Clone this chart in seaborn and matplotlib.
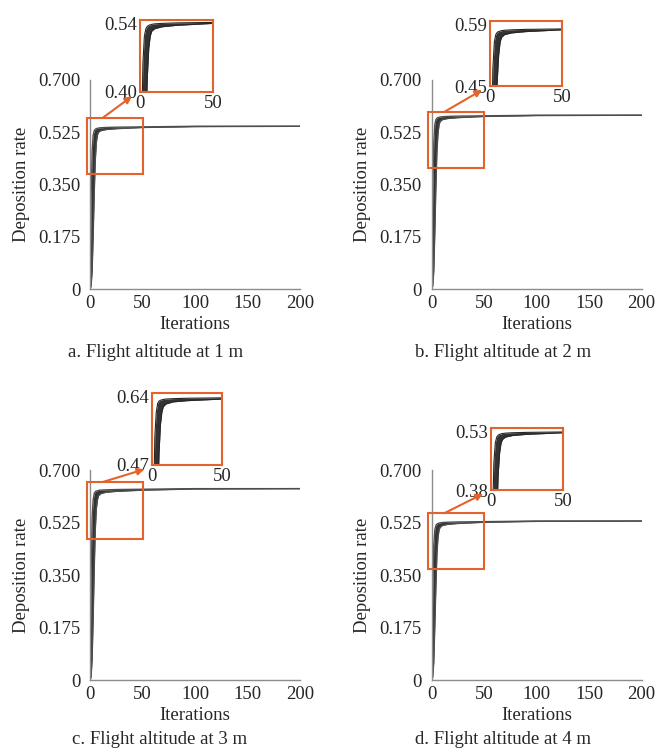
import numpy as np
import pandas as pd
import seaborn as sns
import matplotlib.pyplot as plt
from matplotlib.patches import Rectangle

sns.set_style("white")
plt.rcParams["font.family"] = ["Liberation Serif", "DejaVu Serif"]
plt.rcParams["font.size"] = 13.5

## data (fast / slow envelope of the runs)
iters = [0, 1, 2, 3, 4, 5, 6, 7, 8, 10, 15, 25, 50, 100, 200]

upper_a = [0, 0.30, 0.46, 0.515, 0.530, 0.535, 0.537, 0.538, 0.539, 0.540, 0.541, 0.542, 0.543, 0.545, 0.545]
lower_a = [0, 0.01, 0.06, 0.18, 0.32, 0.43, 0.49, 0.515, 0.525, 0.530, 0.534, 0.537, 0.541, 0.544, 0.545]
upper_b = [0, 0.32, 0.49, 0.55, 0.567, 0.572, 0.574, 0.575, 0.576, 0.577, 0.578, 0.579, 0.580, 0.582, 0.582]
lower_b = [0, 0.01, 0.06, 0.19, 0.34, 0.46, 0.52, 0.55, 0.561, 0.567, 0.571, 0.574, 0.578, 0.581, 0.582]
upper_c = [0, 0.35, 0.54, 0.60, 0.622, 0.628, 0.630, 0.631, 0.632, 0.633, 0.634, 0.635, 0.636, 0.638, 0.638]
lower_c = [0, 0.01, 0.07, 0.21, 0.37, 0.50, 0.57, 0.60, 0.614, 0.621, 0.626, 0.629, 0.633, 0.637, 0.638]
upper_d = [0, 0.29, 0.45, 0.50, 0.515, 0.520, 0.522, 0.523, 0.524, 0.525, 0.526, 0.527, 0.528, 0.530, 0.530]
lower_d = [0, 0.01, 0.06, 0.18, 0.31, 0.42, 0.475, 0.50, 0.509, 0.515, 0.519, 0.522, 0.526, 0.529, 0.530]

captions = ["a. Flight altitude at 1 m", "b. Flight altitude at 2 m",
            "c. Flight altitude at 3 m", "d. Flight altitude at 4 m"]
x_ticks = [0, 50, 100, 150, 200]
y_ticks = [0, 0.175, 0.350, 0.525, 0.700]
y_ticklabels = ["0", "0.175", "0.350", "0.525", "0.700"]

# zoomed window of each panel (inset y range) and highlighted box on main plot
inset_lo = [0.40, 0.45, 0.47, 0.38]
inset_hi = [0.54, 0.59, 0.64, 0.53]
box_lo = [0.385, 0.405, 0.47, 0.37]
box_hi = [0.573, 0.593, 0.66, 0.556]

uppers = [upper_a, upper_b, upper_c, upper_d]
lowers = [lower_a, lower_b, lower_c, lower_d]

ORANGE = "#E4622C"
GREY = "#8c8c8c"

main_pos = [[0.137, 0.6167, 0.3196, 0.2772], [0.657, 0.6167, 0.3196, 0.2772],
            [0.137, 0.0981, 0.3196, 0.2785], [0.657, 0.0981, 0.3196, 0.2785]]
inset_pos = [[0.2131, 0.878, 0.111, 0.0955], [0.7458, 0.8859, 0.1096, 0.0862],
             [0.2314, 0.3833, 0.1065, 0.0955], [0.7473, 0.3501, 0.1096, 0.0822]]
cap_xy = [(156 / 657, 0.533), (503 / 657, 0.533), (160 / 657, 0.0186), (503 / 657, 0.0186)]

fig = plt.figure(figsize=(6.57, 7.54), dpi=100)


def draw_runs(ax, up, lo, lw, col):
    df = pd.DataFrame({"iter": iters * 2, "rate": up + lo,
                       "run": ["fast"] * len(iters) + ["slow"] * len(iters)})
    ax.fill_between(iters, lo, up, color="black", alpha=0.8, lw=0)
    sns.lineplot(data=df, x="iter", y="rate", units="run", estimator=None,
                 color=col, lw=lw, ax=ax, legend=False)


for i in range(4):
    ax = fig.add_axes(main_pos[i])
    draw_runs(ax, uppers[i], lowers[i], 1.0, "0.3")
    ax.set_xlim(0, 200)
    ax.set_ylim(0, 0.7)
    ax.set_xticks(x_ticks)
    ax.set_yticks(y_ticks)
    ax.set_yticklabels(y_ticklabels)
    ax.set_xlabel("Iterations", labelpad=3)
    ax.set_ylabel("Deposition rate", labelpad=6)
    for s in ["top", "right"]:
        ax.spines[s].set_visible(False)
    for s in ["left", "bottom"]:
        ax.spines[s].set_color(GREY)
        ax.spines[s].set_linewidth(1.0)
    ax.tick_params(axis="y", direction="out", length=3, color=GREY, pad=4)
    ax.tick_params(axis="x", direction="in", length=3, color=GREY, pad=4)

    # highlighted box
    ax.add_patch(Rectangle((-3, box_lo[i]), 53, box_hi[i] - box_lo[i], fill=False,
                           ec=ORANGE, lw=1.5, clip_on=False, zorder=5))

    # inset
    ins = fig.add_axes(inset_pos[i])
    draw_runs(ins, uppers[i], lowers[i], 0.8, "0.15")
    ins.set_xlim(0, 50)
    ins.set_ylim(inset_lo[i], inset_hi[i] + 0.008)
    ins.set_xticks([0, 50])
    ins.set_yticks([inset_lo[i], inset_hi[i]])
    ins.set_yticklabels([f"{inset_lo[i]:.2f}", f"{inset_hi[i]:.2f}"])
    ins.set_xlabel("")
    ins.set_ylabel("")
    ins.tick_params(length=0, pad=2)
    for s in ins.spines.values():
        s.set_color(ORANGE)
        s.set_linewidth(1.5)
        s.set_visible(True)

    # arrow from box to inset
    ins.annotate("", xy=(-0.11, -0.06), xycoords="axes fraction",
                 xytext=(12, box_hi[i]), textcoords=ax.transData,
                 arrowprops=dict(arrowstyle="-|>", color=ORANGE, lw=1.5,
                                 mutation_scale=10, shrinkA=0, shrinkB=0))

    fig.text(cap_xy[i][0], cap_xy[i][1], captions[i], ha="center", va="center")

plt.savefig("out.png", dpi=100)
